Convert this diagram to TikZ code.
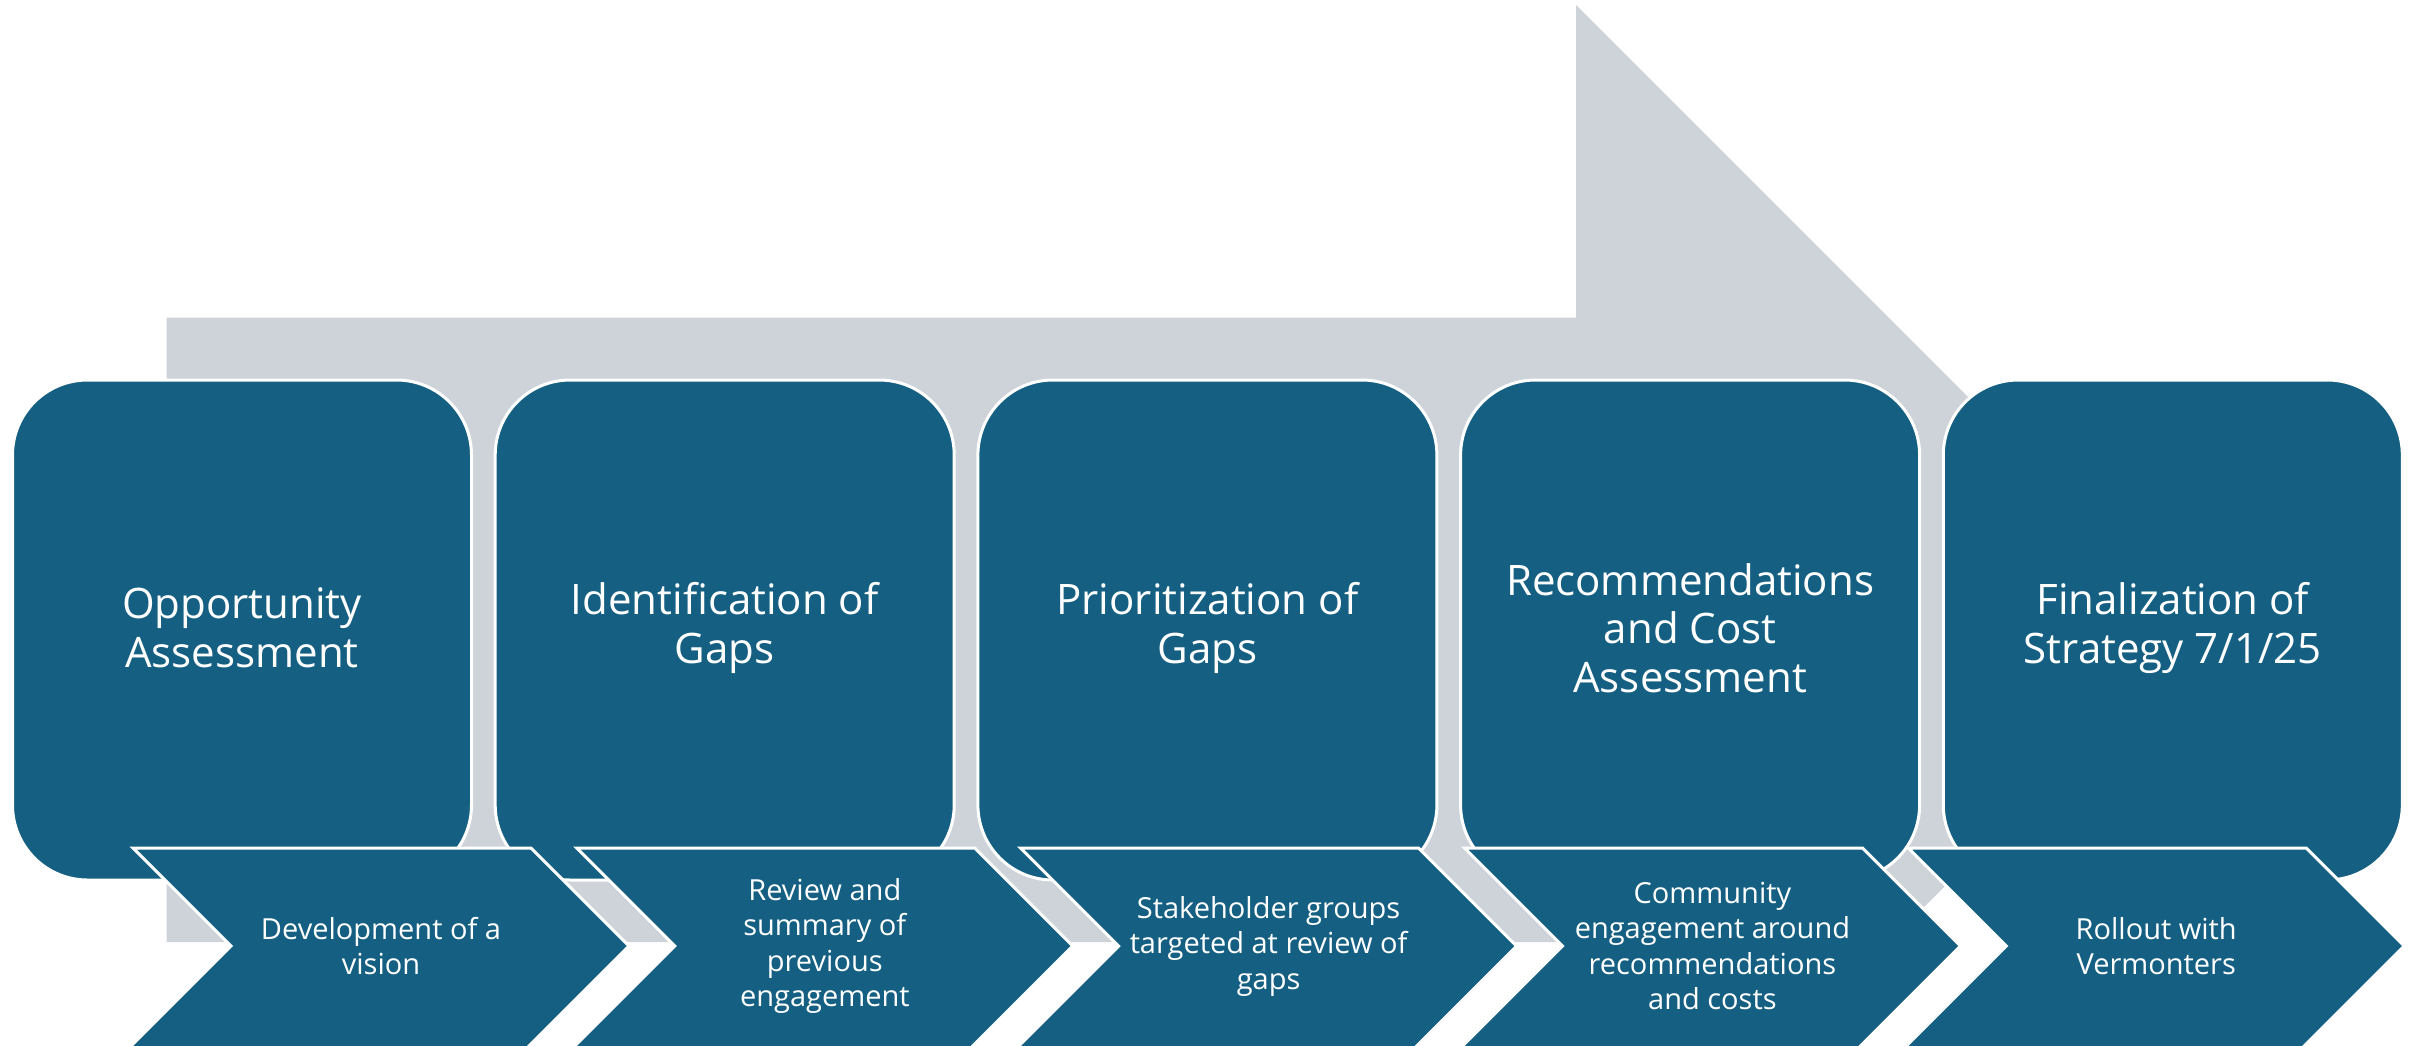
\documentclass[tikz,border=0pt]{standalone}
\usepackage{fontspec}
\setmainfont{Open Sans}
\definecolor{boxblue}{HTML}{156082}
\definecolor{arrowgray}{RGB}{205,211,217}
\tikzset{
  stagebox/.style={fill=boxblue,draw=white,line width=3pt,rounded corners=75pt},
  chevron/.style={fill=boxblue,draw=white,line width=3pt,line join=miter},
  titletext/.style={text=white,align=center,font=\fontsize{42}{48.5}\selectfont,inner sep=0pt},
  chevtext/.style={text=white,align=center,font=\fontsize{29}{35.5}\selectfont,inner sep=0pt}
}
\begin{document}
\begin{tikzpicture}[x=1pt,y=-1pt]
\useasboundingbox (0,0) rectangle (2417,1045);
\clip (0,0) rectangle (2417,1045);
% big gray arrow
\fill[arrowgray] (166.5,317.5) -- (1576,317.5) -- (1576,5) -- (2201,630) -- (1576,1255) -- (1576,942) -- (166.5,942) -- cycle;
% stage boxes
\foreach \i in {0,...,4}{
  \draw[stagebox] ({12.5+482.7*\i},380) rectangle ({471.5+482.7*\i},880);
}
% chevrons (their lower parts run past the bottom edge)
\foreach \i in {0,...,4}{
  \pgfmathsetmacro{\L}{133+443.8*\i}
  \draw[chevron] (\L,848) -- (\L+398,848) -- (\L+496,946) -- (\L+376,1066) -- (\L-22,1066) -- (\L+98,946) -- cycle;
}
% titles
\node[titletext] (t1) at (242,628) {Opportunity\\Assessment};
\node[titletext] (t2) at (724.7,628) {Identification of\\Gaps};
\node[titletext] (t3) at (1207.4,628) {Prioritization of\\Gaps};
\node[titletext] (t4) at (1690.1,628) {Recommendations\\and Cost\\Assessment};
\node[titletext] (t5) at (2172.8,628) {Finalization of\\Strategy 7/1/25};
% chevron texts
\node[chevtext] (c1) at (381,946) {Development of a\\vision};
\node[chevtext] (c2) at (824.8,946) {Review and\\summary of\\previous\\engagement};
\node[chevtext] (c3) at (1268.6,946) {Stakeholder groups\\targeted at review of\\gaps};
\node[chevtext] (c4) at (1712.4,946) {Community\\engagement around\\recommendations\\and costs};
\node[chevtext] (c5) at (2156.2,946) {Rollout with\\Vermonters};
\end{tikzpicture}
\end{document}
